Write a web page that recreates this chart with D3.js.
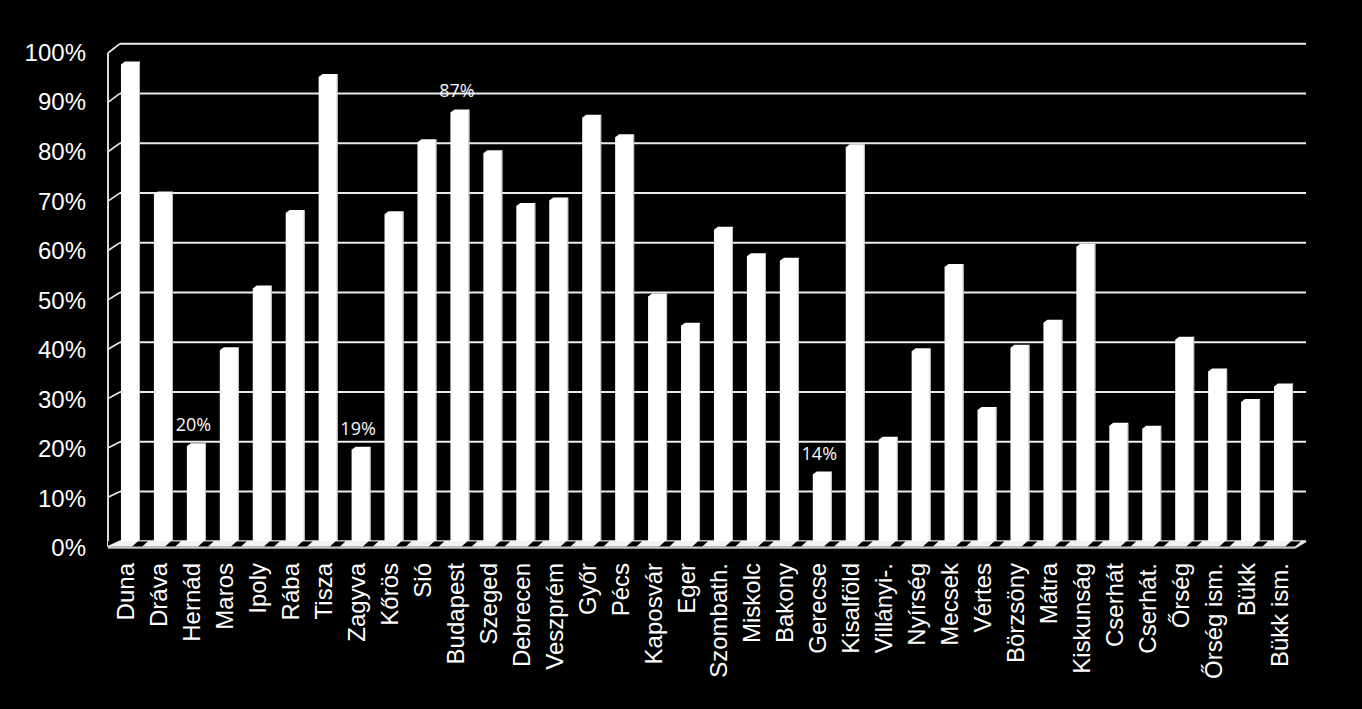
<!DOCTYPE html>
<html><head><meta charset="utf-8">
<script src="https://cdn.jsdelivr.net/npm/d3@7"></script>
<style>html,body{margin:0;padding:0;background:#000;} svg{display:block}</style>
</head><body>
<svg id="c" width="1362" height="709"></svg>
<script>
const categories = ["Duna","Dráva","Hernád","Maros","Ipoly","Rába","Tisza","Zagyva","Kőrös","Sió",
  "Budapest","Szeged","Debrecen","Veszprém","Győr","Pécs","Kaposvár","Eger","Szombath.","Miskolc",
  "Bakony","Gerecse","Kisalföld","Villányi-.","Nyírség","Mecsek","Vértes","Börzsöny","Mátra","Kiskunság",
  "Cserhát","Cserhát.","Őrség","Őrség ism.","Bükk","Bükk ism."];
const values = [96.8,70.7,20.1,39.4,51.8,67.0,94.3,19.4,66.7,81.2,
  87.2,79.0,68.4,69.5,86.1,82.2,50.2,44.3,63.6,58.3,
  57.4,14.4,80.2,21.4,39.2,56.1,27.4,39.9,44.9,60.2,
  24.2,23.6,41.5,35.1,29.0,32.1];
const labeledCategories = ["Hernád","Zagyva","Budapest","Gerecse"];
const yTicks = [0,10,20,30,40,50,60,70,80,90,100];

const svg = d3.select("#c");
const W = 1362, H = 709;
svg.append("rect").attr("width", W).attr("height", H).attr("fill", "#000");

// 3D geometry: front plane and back wall scales
const yFront = d3.scaleLinear().domain([0,100]).range([546.7, 53]);
const yBack  = d3.scaleLinear().domain([0,100]).range([541.2, 43.7]);
const yBar   = d3.scaleLinear().domain([0,100]).range([543.2, 45.7]);
const frontLeft = 108, backLeft = 120, backRight = 1306, frontRight = 1295;

const x = d3.scaleBand().domain(categories).range([114, 1300])
  .paddingInner(0.423).paddingOuter(0.2115);

const gridColor = "#ececec";

// back wall gridlines
svg.append("g").selectAll("line").data(yTicks).join("line")
  .attr("x1", backLeft).attr("x2", backRight)
  .attr("y1", d => yBack(d)).attr("y2", d => yBack(d))
  .attr("stroke", gridColor).attr("stroke-width", 2);

// side wall diagonals
svg.append("g").selectAll("line").data(yTicks).join("line")
  .attr("x1", frontLeft).attr("x2", backLeft)
  .attr("y1", d => yFront(d)).attr("y2", d => yBack(d))
  .attr("stroke", gridColor).attr("stroke-width", 1.6);

// front-left axis line
svg.append("line")
  .attr("x1", frontLeft).attr("x2", frontLeft)
  .attr("y1", yFront(100)).attr("y2", yFront(0))
  .attr("stroke", "#d9d9d9").attr("stroke-width", 2);

// bars
const bw = x.bandwidth();
const bars = svg.append("g");
categories.forEach((c, i) => {
  const x0 = x(c), top = yBar(values[i]), bot = yBack(0);
  bars.append("path")
    .attr("d", `M${x0},${bot} L${x0},${top+3} L${x0+4},${top} L${x0+bw},${top} L${x0+bw},${bot} Z`)
    .attr("fill", "#ffffff");
  bars.append("line")
    .attr("x1", x0+bw-0.5).attr("x2", x0+bw-0.5)
    .attr("y1", top+1).attr("y2", bot)
    .attr("stroke", "#bdbdbd").attr("stroke-width", 1);
});

// floor strip
const f0 = yFront(0), b0 = yBack(0);
svg.append("polygon")
  .attr("points", `${frontLeft},${f0} ${frontRight},${f0} ${backRight},${b0} ${backLeft},${b0}`)
  .attr("fill", "#f2f2f2");
const clip = svg.append("clipPath").attr("id", "floorclip");
clip.append("polygon")
  .attr("points", `${frontLeft},${f0} ${frontRight},${f0} ${backRight},${b0} ${backLeft},${b0}`);
svg.append("g").attr("clip-path", "url(#floorclip)")
  .selectAll("polygon").data(categories).join("polygon")
  .attr("points", c => {
    const xr = x(c) + bw;
    return `${xr-8},${f0} ${xr+2},${f0} ${xr+8},${b0} ${xr-2},${b0}`;
  })
  .attr("fill", "#000");
// left corner of floor
svg.append("polygon")
  .attr("points", `${frontLeft},${f0} ${backLeft},${b0} ${frontLeft},${b0}`)
  .attr("fill", "#000");
svg.append("line")
  .attr("x1", frontLeft).attr("x2", backLeft).attr("y1", f0).attr("y2", b0)
  .attr("stroke", gridColor).attr("stroke-width", 1.6);
// front floor edge
svg.append("line")
  .attr("x1", frontLeft).attr("x2", frontRight).attr("y1", f0+1).attr("y2", f0+1)
  .attr("stroke", "#c4c4c4").attr("stroke-width", 2);
svg.append("line")
  .attr("x1", frontRight).attr("x2", backRight).attr("y1", f0+1).attr("y2", b0)
  .attr("stroke", "#e0e0e0").attr("stroke-width", 2);

// y tick labels
svg.append("g").selectAll("text").data(yTicks).join("text")
  .attr("x", 86)
  .attr("y", d => (yFront(d) + yBack(d)) / 2 + 12.5)
  .attr("text-anchor", "end")
  .attr("fill", "#ffffff")
  .attr("font-family", "Liberation Sans, Arial, sans-serif")
  .attr("font-size", 24)
  .text(d => d + "%");

// x category labels (rotated)
svg.append("g").selectAll("text").data(categories).join("text")
  .attr("transform", c => `translate(${x(c) + bw/2 + 4},563) rotate(-90)`)
  .attr("text-anchor", "end")
  .attr("fill", "#ffffff")
  .attr("font-family", "Liberation Sans, Arial, sans-serif")
  .attr("font-size", 24)
  .text(c => c);

// data labels
svg.append("g").selectAll("text").data(labeledCategories).join("text")
  .attr("x", c => x(c) + bw/2 - 3)
  .attr("y", c => yBar(values[categories.indexOf(c)]) - 12)
  .attr("text-anchor", "middle")
  .attr("fill", "#f7f7f7")
  .attr("font-family", "Open Sans, Noto Sans, sans-serif")
  .attr("font-size", 18)
  .text(c => Math.round(values[categories.indexOf(c)]) + "%");
</script>
</body></html>
